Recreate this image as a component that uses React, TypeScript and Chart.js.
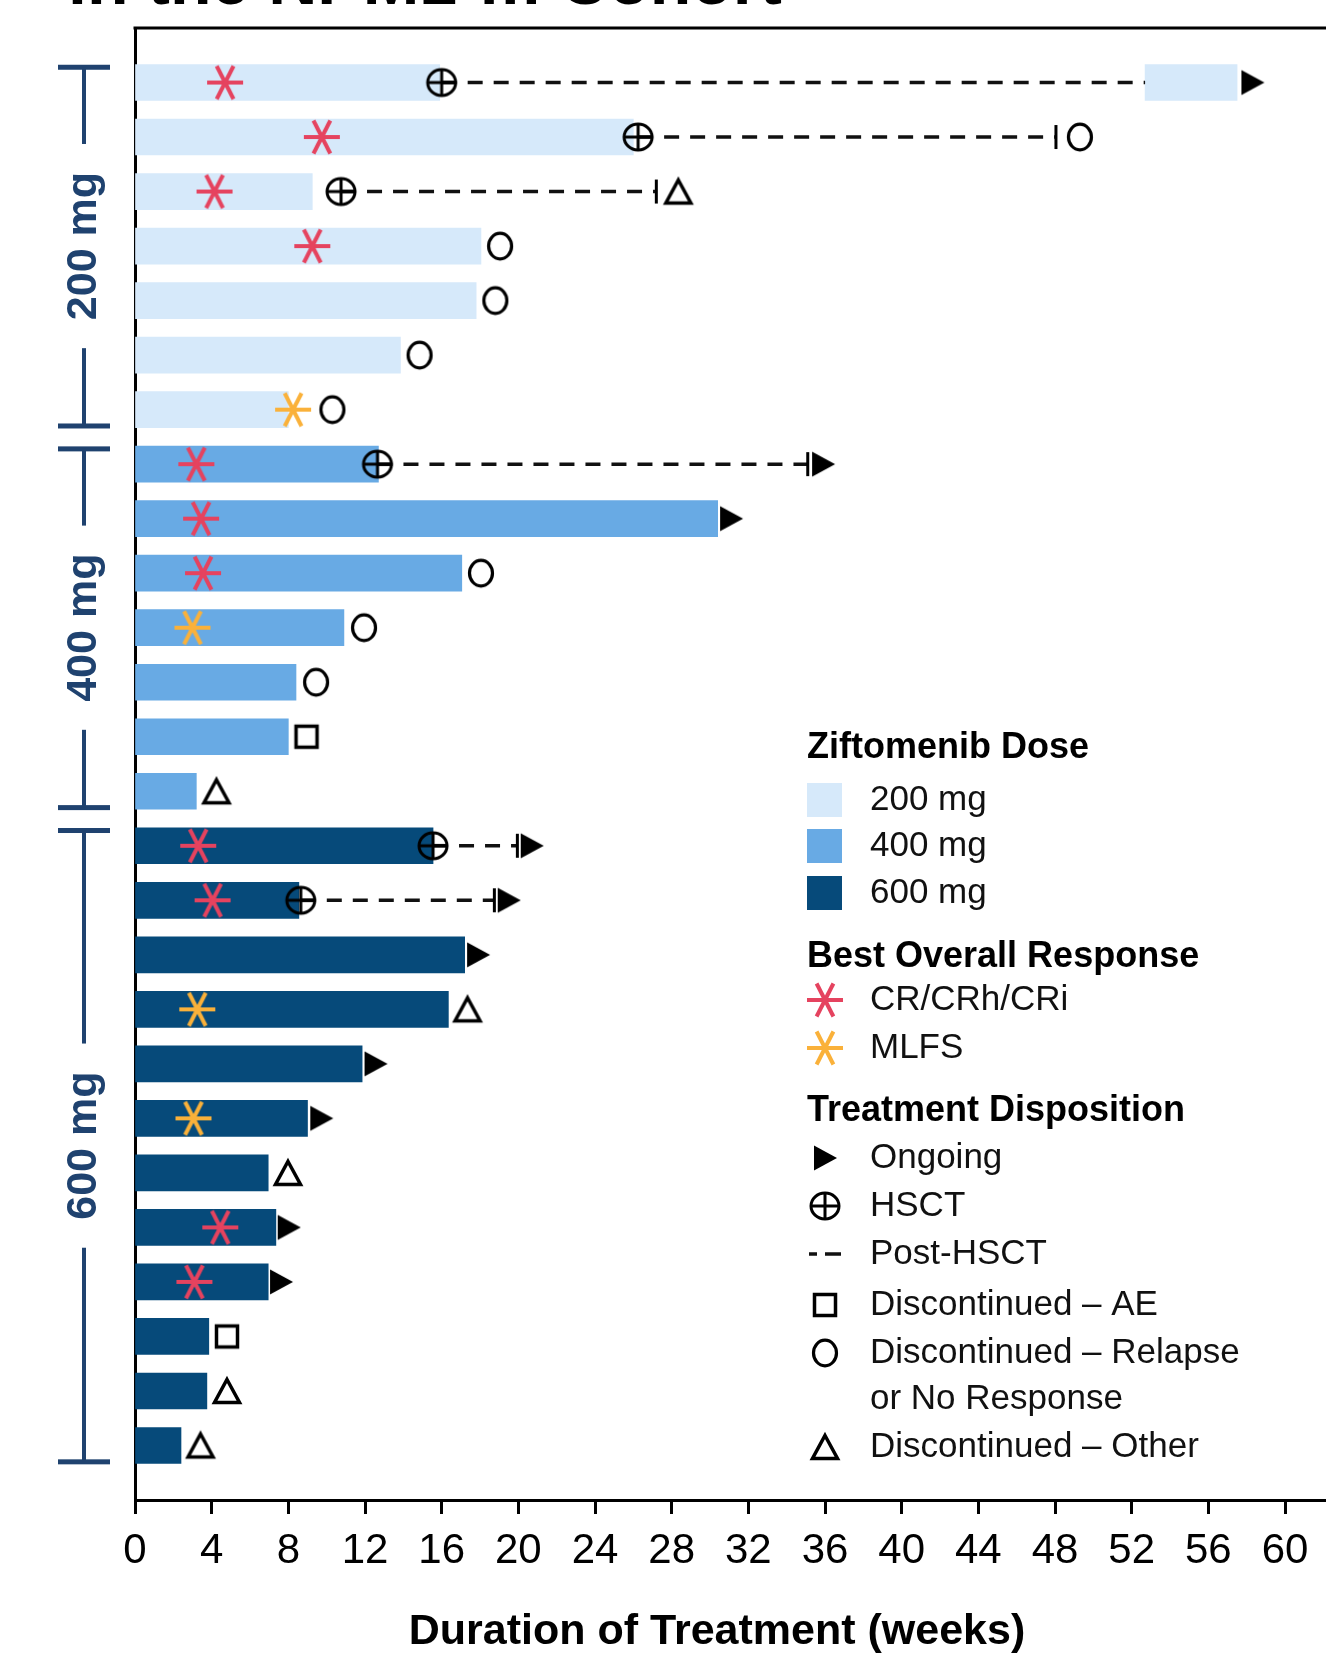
import React, { useEffect, useRef } from 'react';
import { Chart, registerables } from 'chart.js';

Chart.register(...registerables);

const FONT = '"Liberation Sans", Arial, Helvetica, sans-serif';

// ---------- data ----------
const xTickStep = 4;
const xAxisMax = 62;
const xAxisTitle = 'Duration of Treatment (weeks)';
const pageTitle = 'in the NPM1-m Cohort';

const doseLabels = ['200 mg', '400 mg', '600 mg'];
const doseColors = ['#D6E9FA', '#68AAE4', '#064A7A'];
const doseGroupStart = [1, 8, 15];
const doseGroupEnd = [7, 14, 26];

const patientRows = [1, 2, 3, 4, 5, 6, 7, 8, 9, 10, 11, 12, 13, 14, 15, 16, 17, 18, 19, 20, 21, 22, 23, 24, 25, 26];
const patientDose = [0, 0, 0, 0, 0, 0, 0, 1, 1, 1, 1, 1, 1, 1, 2, 2, 2, 2, 2, 2, 2, 2, 2, 2, 2, 2];
const treatmentWeeks = [15.9, 26.0, 9.25, 18.05, 17.8, 13.85, 8.0, 12.7, 30.4, 17.05, 10.9, 8.4, 8.0, 3.2, 15.55, 8.55, 17.2, 16.35, 11.85, 9.0, 6.95, 7.35, 6.95, 3.85, 3.75, 2.4];

const retreatRows = [1];
const retreatStart = [52.7];
const retreatEnd = [57.5];

const crRows = [1, 2, 3, 4, 8, 9, 10, 15, 16, 22, 23];
const crWeeks = [4.7, 9.75, 4.15, 9.25, 3.2, 3.45, 3.55, 3.3, 4.05, 4.45, 3.1];

const mlfsRows = [7, 11, 18, 20];
const mlfsWeeks = [8.25, 3.0, 3.25, 3.05];

const hsctRows = [1, 2, 3, 8, 15, 16];
const hsctWeeks = [16.0, 26.25, 10.75, 12.65, 15.55, 8.65];
const postHsctEnd = [52.7, 48.05, 27.2, 35.1, 19.95, 18.75];

const postHsctTickRows = [2, 3, 8, 15, 16];
const postHsctTickWeeks = [48.05, 27.2, 35.1, 19.95, 18.75];

const ongoingRows = [1, 8, 9, 15, 16, 17, 19, 20, 22, 23];
const ongoingWeeks = [58.3, 35.9, 31.1, 20.7, 19.5, 17.9, 12.55, 9.72, 8.02, 7.62];

const relapseRows = [2, 4, 5, 6, 7, 10, 11, 12];
const relapseWeeks = [49.3, 19.05, 18.8, 14.85, 10.3, 18.05, 11.95, 9.45];

const aeRows = [13, 24];
const aeWeeks = [8.95, 4.8];

const otherRows = [3, 14, 18, 21, 25, 26];
const otherWeeks = [28.35, 4.25, 17.35, 7.98, 4.8, 3.42];

const legendDoseTitle = 'Ziftomenib Dose';
const legendResponseTitle = 'Best Overall Response';
const legendResponseLabels = ['CR/CRh/CRi', 'MLFS'];
const legendDispositionTitle = 'Treatment Disposition';
const legendDispositionLabels = ['Ongoing', 'HSCT', 'Post-HSCT', 'Discontinued \u2013 AE', 'Discontinued \u2013 Relapse', 'or No Response', 'Discontinued \u2013 Other'];

const crColor = '#E5435F';
const mlfsColor = '#FAB13A';
const navy = '#1F426F';

// pixel scale of the x axis (60 weeks span 1150 px in the reference)
const PX_PER_WEEK = 1150 / 60;

// ---------- marker images ----------
function makeCanvas(w: number, h: number, draw: (ctx: CanvasRenderingContext2D, cx: number, cy: number) => void) {
  const c = document.createElement('canvas');
  c.width = w;
  c.height = h;
  const ctx = c.getContext('2d') as CanvasRenderingContext2D;
  draw(ctx, w / 2, h / 2);
  return c;
}

function asterisk(color: string) {
  return makeCanvas(42, 40, (ctx, cx, cy) => {
    ctx.strokeStyle = color;
    ctx.lineWidth = 4;
    ctx.lineCap = 'butt';
    const arms: [number, number][] = [[0, 18], [63, 18.5], [117, 18.5]];
    for (const [deg, len] of arms) {
      const r = (deg * Math.PI) / 180;
      const dx = Math.cos(r) * len;
      const dy = Math.sin(r) * len;
      ctx.beginPath();
      ctx.moveTo(cx - dx, cy - dy);
      ctx.lineTo(cx + dx, cy + dy);
      ctx.stroke();
    }
  });
}

function makeMarkers() {
  const hsct = makeCanvas(36, 34, (ctx, cx, cy) => {
    ctx.strokeStyle = '#000';
    ctx.lineWidth = 3;
    ctx.beginPath();
    ctx.ellipse(cx, cy, 14, 13, 0, 0, Math.PI * 2);
    ctx.stroke();
    ctx.beginPath();
    ctx.moveTo(cx - 14, cy);
    ctx.lineTo(cx + 14, cy);
    ctx.moveTo(cx, cy - 13);
    ctx.lineTo(cx, cy + 13);
    ctx.stroke();
  });
  const circle = makeCanvas(32, 34, (ctx, cx, cy) => {
    ctx.strokeStyle = '#000';
    ctx.lineWidth = 3.2;
    ctx.beginPath();
    ctx.ellipse(cx, cy, 11.5, 12.8, 0, 0, Math.PI * 2);
    ctx.stroke();
  });
  const square = makeCanvas(30, 30, (ctx, cx, cy) => {
    ctx.strokeStyle = '#000';
    ctx.lineWidth = 3.5;
    ctx.strokeRect(cx - 10.5, cy - 10.5, 21, 21);
  });
  const openTri = makeCanvas(34, 32, (ctx, cx, cy) => {
    ctx.strokeStyle = '#000';
    ctx.lineWidth = 3.5;
    ctx.lineJoin = 'miter';
    ctx.beginPath();
    ctx.moveTo(cx, cy - 11.5);
    ctx.lineTo(cx + 12.5, cy + 11.5);
    ctx.lineTo(cx - 12.5, cy + 11.5);
    ctx.closePath();
    ctx.stroke();
  });
  const rightTri = makeCanvas(28, 28, (ctx, cx, cy) => {
    ctx.fillStyle = '#000';
    ctx.beginPath();
    ctx.moveTo(cx - 11, cy - 12.5);
    ctx.lineTo(cx + 12, cy);
    ctx.lineTo(cx - 11, cy + 12.5);
    ctx.closePath();
    ctx.fill();
  });
  return { hsct, circle, square, openTri, rightTri, cr: asterisk(crColor), mlfs: asterisk(mlfsColor) };
}

// ---------- component ----------
export default function App() {
  const ref = useRef<HTMLCanvasElement>(null);

  useEffect(() => {
    document.body.style.margin = '0';
    const canvas = ref.current as HTMLCanvasElement;
    const m = makeMarkers();

    const barDatasets: any[] = doseLabels.map((label, d) => {
      const data: any[] = [];
      patientRows.forEach((r, i) => {
        if (patientDose[i] === d) data.push({ x: [0, treatmentWeeks[i]], y: r });
      });
      retreatRows.forEach((r, j) => {
        if (patientDose[patientRows.indexOf(r)] === d) data.push({ x: [retreatStart[j], retreatEnd[j]], y: r });
      });
      return {
        type: 'bar',
        label,
        data,
        backgroundColor: doseColors[d],
        borderWidth: 0,
        barThickness: 36,
        grouped: false,
        order: 10,
      };
    });

    const lineDatasets: any[] = hsctRows.map((r, i) => ({
      type: 'line',
      label: 'post-hsct-' + r,
      data: [
        { x: hsctWeeks[i], y: r },
        { x: postHsctEnd[i], y: r },
      ],
      borderColor: '#111',
      borderWidth: 3.5,
      borderDash: [15, 11],
      pointRadius: 0,
      fill: false,
      order: 8,
    }));

    const scatter = (label: string, rows: number[], weeks: number[], style: any, order: number, extra: any = {}) => ({
      type: 'scatter',
      label,
      data: rows.map((r, i) => ({ x: weeks[i], y: r })),
      pointStyle: style,
      pointRadius: 10,
      pointHoverRadius: 10,
      order,
      ...extra,
    });

    const markerDatasets: any[] = [
      scatter('ticks', postHsctTickRows, postHsctTickWeeks, 'line', 6, {
        pointRotation: 90,
        pointRadius: 12,
        pointHoverRadius: 12,
        borderColor: '#000',
        borderWidth: 3,
        pointBorderColor: '#000',
        pointBorderWidth: 3,
      }),
      scatter('ongoing', ongoingRows, ongoingWeeks, m.rightTri, 5),
      scatter('relapse', relapseRows, relapseWeeks, m.circle, 5),
      scatter('ae', aeRows, aeWeeks, m.square, 5),
      scatter('other', otherRows, otherWeeks, m.openTri, 5),
      scatter('hsct', hsctRows, hsctWeeks, m.hsct, 4),
      scatter('cr', crRows, crWeeks, m.cr, 3),
      scatter('mlfs', mlfsRows, mlfsWeeks, m.mlfs, 3),
    ];

    const overlay = {
      id: 'overlay',
      beforeDraw(chart: any) {
        const ctx = chart.ctx as CanvasRenderingContext2D;
        ctx.save();
        ctx.fillStyle = '#fff';
        ctx.fillRect(0, 0, chart.width, chart.height);
        ctx.restore();
      },
      afterDraw(chart: any) {
        const ctx = chart.ctx as CanvasRenderingContext2D;
        const { left, right, top, bottom } = chart.chartArea;
        const ys = chart.scales.y;
        ctx.save();

        // frame lines (top, and extension of bottom axis to the canvas edge)
        ctx.strokeStyle = '#000';
        ctx.lineWidth = 3;
        ctx.beginPath();
        ctx.moveTo(left - 1.5, top);
        ctx.lineTo(chart.width, top);
        if (right < chart.width) {
          ctx.moveTo(right - 1, bottom + 0.5);
          ctx.lineTo(chart.width, bottom + 0.5);
        }
        ctx.stroke();

        // partial page title (cut off at top)
        ctx.fillStyle = '#000';
        ctx.font = `700 68px ${FONT}`;
        ctx.textAlign = 'left';
        ctx.textBaseline = 'alphabetic';
        ctx.fillText(pageTitle, 68, 4);

        // dose group brackets
        const bx = 84;
        ctx.font = `700 43px ${FONT}`;
        doseLabels.forEach((label, g) => {
          const yTop = ys.getPixelForValue(doseGroupStart[g] - 0.28);
          const yBot = ys.getPixelForValue(doseGroupEnd[g] + 0.3);
          const yMid = ys.getPixelForValue((doseGroupStart[g] + doseGroupEnd[g]) / 2);
          const w = ctx.measureText(label).width;
          ctx.fillStyle = navy;
          ctx.fillRect(58, yTop - 2.5, 52, 5);
          ctx.fillRect(58, yBot - 2.5, 52, 5);
          ctx.fillRect(bx - 2, yTop, 4, yMid - w / 2 - 28 - yTop);
          ctx.fillRect(bx - 2, yMid + w / 2 + 28, 4, yBot - (yMid + w / 2 + 28));
          ctx.save();
          ctx.translate(96, yMid);
          ctx.rotate(-Math.PI / 2);
          ctx.textAlign = 'center';
          ctx.textBaseline = 'alphabetic';
          ctx.fillText(label, 0, 0);
          ctx.restore();
        });

        // x axis title
        ctx.fillStyle = '#000';
        ctx.font = `700 43px ${FONT}`;
        ctx.textAlign = 'center';
        ctx.textBaseline = 'alphabetic';
        ctx.fillText(xAxisTitle, 717, 1644);

        // legend
        const lx = 807;
        const tx = 870;
        const sx = 825;
        ctx.textAlign = 'left';
        ctx.textBaseline = 'middle';
        const header = (t: string, y: number) => {
          ctx.fillStyle = '#000';
          ctx.font = `700 36px ${FONT}`;
          ctx.fillText(t, lx, y);
        };
        const item = (t: string, y: number) => {
          ctx.fillStyle = '#111';
          ctx.font = `35px ${FONT}`;
          ctx.fillText(t, tx, y);
        };
        const img = (c: HTMLCanvasElement, y: number) => ctx.drawImage(c, sx - c.width / 2, y - c.height / 2);

        header(legendDoseTitle, 748);
        const doseY = [800, 846, 893];
        doseLabels.forEach((l, i) => {
          ctx.fillStyle = doseColors[i];
          ctx.fillRect(lx, doseY[i] - 17, 35, 34);
          item(l, doseY[i]);
        });

        header(legendResponseTitle, 957);
        const respY = [1000, 1048];
        img(m.cr, respY[0]);
        img(m.mlfs, respY[1]);
        legendResponseLabels.forEach((l, i) => item(l, respY[i]));

        header(legendDispositionTitle, 1111);
        const dispY = [1158, 1206, 1254, 1305, 1353, 1399, 1447];
        img(m.rightTri, dispY[0]);
        img(m.hsct, dispY[1]);
        ctx.strokeStyle = '#111';
        ctx.lineWidth = 3.5;
        ctx.beginPath();
        ctx.moveTo(809, dispY[2]);
        ctx.lineTo(817, dispY[2]);
        ctx.moveTo(825, dispY[2]);
        ctx.lineTo(841, dispY[2]);
        ctx.stroke();
        img(m.square, dispY[3]);
        img(m.circle, dispY[4]);
        img(m.openTri, dispY[6]);
        legendDispositionLabels.forEach((l, i) => item(l, dispY[i]));

        ctx.restore();
      },
    };

    const chart: any = new Chart(canvas, {
      type: 'bar',
      data: { datasets: [...barDatasets, ...lineDatasets, ...markerDatasets] },
      options: {
        indexAxis: 'y',
        responsive: false,
        animation: false,
        devicePixelRatio: 1,
        layout: { padding: { top: 28, left: 0, right: 0, bottom: 0 } },
        plugins: {
          legend: { display: false },
          tooltip: { enabled: false },
          title: { display: false },
        },
        scales: {
          x: {
            type: 'linear',
            position: 'bottom',
            min: 0,
            max: xAxisMax,
            offset: false,
            ticks: {
              stepSize: xTickStep,
              includeBounds: false,
              autoSkip: false,
              maxRotation: 0,
              color: '#000',
              padding: 12,
              font: { family: FONT, size: 42 },
            },
            grid: {
              display: true,
              offset: false,
              drawOnChartArea: false,
              drawTicks: true,
              tickLength: 14,
              tickWidth: 3,
              tickColor: '#000',
            },
            border: { display: true, color: '#000', width: 3 },
            afterFit: (s: any) => {
              s.height = 154;
            },
          },
          y: {
            type: 'linear',
            position: 'left',
            min: 0,
            max: 27,
            reverse: true,
            offset: false,
            ticks: { display: false },
            grid: { display: false, offset: false },
            border: { display: true, color: '#000', width: 3 },
            afterFit: (s: any) => {
              s.width = 135;
            },
          },
        },
      } as any,
      plugins: [overlay],
    } as any);

    // keep the reference's week-to-pixel scale regardless of the plot width chosen by the layout
    for (let k = 0; k < 4; k++) {
      const a = chart.chartArea;
      const want = (a.right - a.left) / PX_PER_WEEK;
      if (Math.abs(want - chart.options.scales.x.max) < 0.005) break;
      chart.options.scales.x.max = want;
      chart.update();
    }

    return () => chart.destroy();
  }, []);

  return <canvas ref={ref} width={1326} height={1654} style={{ display: 'block', width: 1326, height: 1654 }} />;
}
